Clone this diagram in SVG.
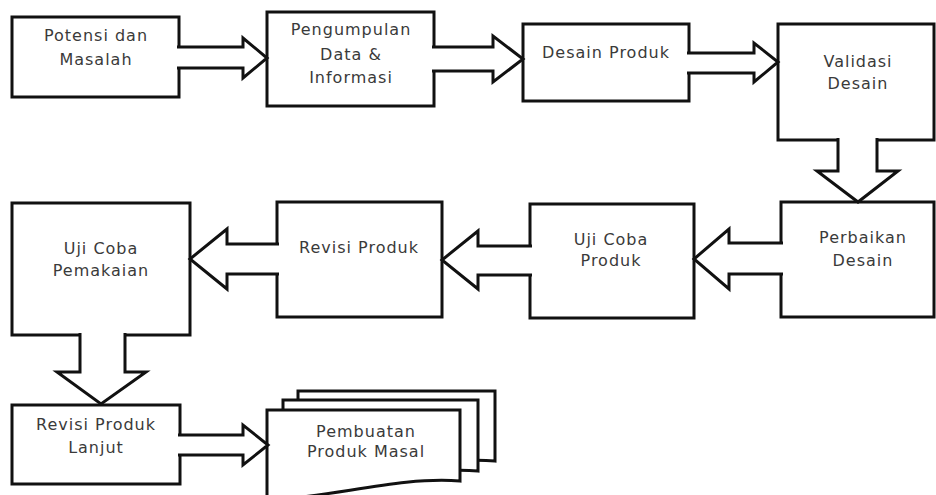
<svg xmlns="http://www.w3.org/2000/svg" width="936" height="495" viewBox="0 0 936 495">
<style>
.box{fill:#fff;stroke:#111;stroke-width:3;stroke-linejoin:miter}
.arr{fill:#fff;stroke:#111;stroke-width:3;stroke-linejoin:miter}
.t{font-family:"DejaVu Sans","Liberation Sans",sans-serif;font-size:16px;letter-spacing:1px;fill:#3a3a3a;text-anchor:middle}
</style>
<rect width="936" height="495" fill="#fff"/>
<g id="n1"><rect class="box" x="12" y="17" width="167" height="80"/><text class="t" x="96" y="41">Potensi dan</text><text class="t" x="96" y="65">Masalah</text></g>
<g id="n2"><rect class="box" x="267" y="12" width="167" height="94"/><text class="t" x="351" y="35">Pengumpulan</text><text class="t" x="351" y="60">Data &amp;</text><text class="t" x="351" y="83">Informasi</text></g>
<g id="n3"><rect class="box" x="523" y="24" width="166" height="77"/><text class="t" x="606" y="58">Desain Produk</text></g>
<g id="n4"><rect class="box" x="778" y="24" width="156" height="116"/><text class="t" x="858" y="67">Validasi</text><text class="t" x="858" y="89">Desain</text></g>
<g id="n5"><rect class="box" x="781" y="202" width="153" height="115"/><text class="t" x="863" y="243">Perbaikan</text><text class="t" x="863" y="266">Desain</text></g>
<g id="n6"><rect class="box" x="530" y="204" width="164" height="114"/><text class="t" x="611" y="245">Uji Coba</text><text class="t" x="611" y="266">Produk</text></g>
<g id="n7"><rect class="box" x="277" y="202" width="165" height="115"/><text class="t" x="359" y="253">Revisi Produk</text></g>
<g id="n8"><rect class="box" x="12" y="203" width="178" height="132"/><text class="t" x="101" y="254">Uji Coba</text><text class="t" x="101" y="276">Pemakaian</text></g>
<g id="n9"><rect class="box" x="12" y="405" width="168" height="79"/><text class="t" x="96" y="430">Revisi Produk</text><text class="t" x="96" y="453">Lanjut</text></g>
<g id="n10">
<path class="box" d="M298,391 H495 V461 C435,456 361,478 298,480 Z"/>
<path class="box" d="M283,400 H478 V471 C418,466 346,488 283,490 Z"/>
<path class="box" d="M267,410 H460 V481 C400,476 330,498 267,500 Z"/>
<text class="t" x="366" y="437">Pembuatan</text><text class="t" x="366" y="457">Produk Masal</text>
</g>
<g id="connectors">
<path class="arr" d="M177,47 H243 V38 L267,58 L243,78 V68 H177"/>
<path class="arr" d="M432,47 H493 V36 L523,59 L493,82 V71 H432"/>
<path class="arr" d="M687,53 H754 V43 L778,62 L754,82 V73 H687"/>
<path class="arr" d="M838,138 V171 H817 L858,202 L898,171 H877 V138"/>
<path class="arr" d="M783,243 H729 V229 L694,259 L729,289 V274 H783"/>
<path class="arr" d="M532,246 H478 V231 L442,260 L478,289 V275 H532"/>
<path class="arr" d="M279,244 H227 V229 L190,259 L227,289 V274 H279"/>
<path class="arr" d="M80,333 V372 H57 L101,404 L146,372 H125 V333"/>
<path class="arr" d="M178,435 H243 V425 L268,445 L243,465 V455 H178"/>
</g>
</svg>
